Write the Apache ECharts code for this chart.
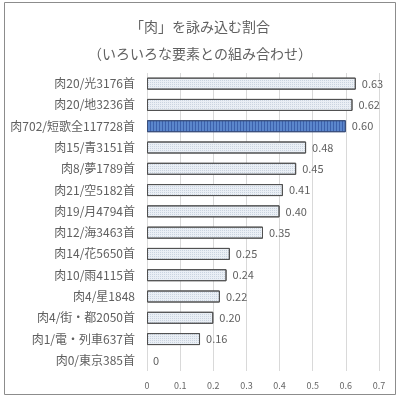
<!DOCTYPE html>
<html>
<head>
<meta charset="utf-8" />
<script src="https://cdn.jsdelivr.net/npm/echarts@6/dist/echarts.min.js"></script>
<title>肉</title>
<style>
html,body{margin:0;padding:0;background:#fff;}
#main{width:400px;height:399px;}
</style>
</head>
<body>
<div id="main"></div>
<script>
var categories = ['肉20/光3176首','肉20/地3236首','肉702/短歌全117728首','肉15/青3151首','肉8/夢1789首',
  '肉21/空5182首','肉19/月4794首','肉12/海3463首','肉14/花5650首','肉10/雨4115首',
  '肉4/星1848','肉4/街・都2050首','肉1/電・列車637首','肉0/東京385首'];
var values = [0.63,0.62,0.60,0.48,0.45,0.41,0.40,0.35,0.25,0.24,0.22,0.20,0.16,0];
var highlight = '肉702/短歌全117728首';

var font = '"Noto Sans CJK JP", sans-serif';
var chart = echarts.init(document.getElementById('main'));
var option = {
  backgroundColor: '#fff',
  textStyle: {fontFamily: font},
  title: {
    text: '「肉」を詠み込む割合\n（いろいろな要素との組み合わせ）',
    left: 'center',
    top: 8,
    textStyle: {fontSize: 14, fontWeight: 'normal', color: '#606060', lineHeight: 27, fontFamily: font}
  },
  graphic: [{
    type: 'rect', shape: {x: 4.5, y: 2.5, width: 391, height: 392},
    style: {fill: 'none', stroke: '#8c8c8c', lineWidth: 1}, silent: true
  }],
  grid: {left: 147, right: 21, top: 73, bottom: 28},
  xAxis: {
    type: 'value', min: 0, max: 0.7, interval: 0.1,
    axisLine: {show: false}, axisTick: {show: false},
    splitLine: {lineStyle: {color: '#d9d9d9'}},
    axisLabel: {color: '#666', fontSize: 9, margin: 10, fontFamily: font,
      formatter: function (v) { return v === 0 ? '0' : v.toFixed(1); }}
  },
  yAxis: {
    type: 'category', data: categories, inverse: true,
    axisLine: {show: false}, axisTick: {show: false},
    axisLabel: {color: '#606060', fontSize: 12, margin: 12, fontFamily: font}
  },
  series: [{
    type: 'bar',
    barWidth: 12,
    data: values.map(function (v, i) {
      var hl = categories[i] === highlight;
      return {
        value: v,
        itemStyle: hl ? {
          color: '#5b86cc', borderColor: '#3a4f7a', borderWidth: 1,
          decal: {symbol: 'rect', symbolSize: 1, dashArrayX: [1, 2], dashArrayY: [20, 0], color: 'rgba(30,60,140,0.5)'}
        } : {
          color: '#eaeff5', borderColor: '#505050', borderWidth: v === 0 ? 0 : 1,
          decal: {symbol: 'rect', symbolSize: 1, dashArrayX: [1, 1], dashArrayY: [1, 1], color: 'rgba(130,150,175,0.3)'}
        }
      };
    }),
    label: {
      show: true, position: 'right', distance: 6, color: '#606060', fontSize: 11, fontFamily: font,
      formatter: function (p) { return p.value === 0 ? '0' : p.value.toFixed(2); }
    }
  }]
};
chart.setOption(option);
</script>
</body>
</html>
